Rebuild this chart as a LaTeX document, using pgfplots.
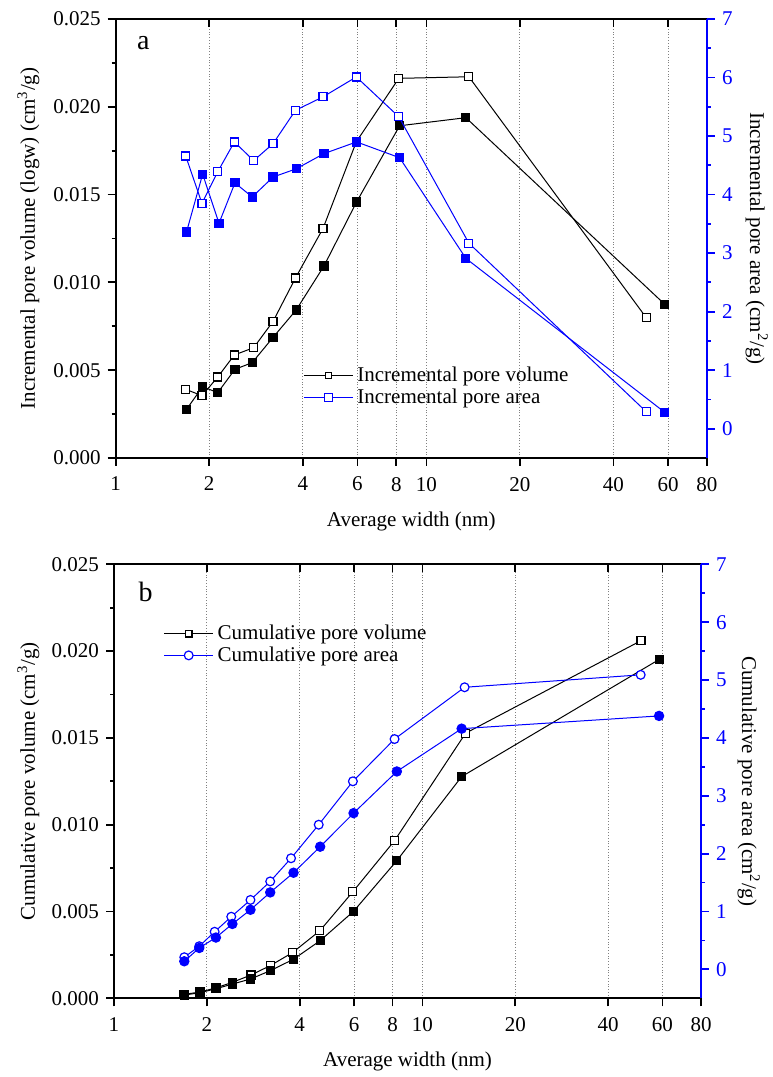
\documentclass[border=0pt]{standalone}
\usepackage{pgfplots}
\pgfplotsset{compat=1.18}
\usepackage{fontspec}
\setmainfont{Liberation Serif}
\definecolor{pblue}{RGB}{0,0,255}

\pgfplotstableread{
x y
1.68 0.00391
1.895 0.00355
2.13 0.00461
2.41 0.00587
2.78 0.00628
3.21 0.00778
3.79 0.01025
4.65 0.01308
5.95 0.01801
8.15 0.02162
13.7 0.02171
51.0 0.00799
}\aVolOpen
\pgfplotstableread{
x y
1.69 0.00277
1.905 0.00406
2.13 0.00372
2.42 0.00505
2.75 0.00543
3.21 0.00687
3.81 0.00843
4.68 0.01093
5.96 0.01458
8.2 0.01892
13.4 0.01938
58.5 0.00875
}\aVolFilled
\pgfplotstableread{
x y
1.68 4.66
1.895 3.85
2.13 4.39
2.41 4.90
2.78 4.58
3.21 4.87
3.79 5.44
4.65 5.67
5.95 6.01
8.15 5.33
13.7 3.17
51.0 0.29
}\aAreaOpen
\pgfplotstableread{
x y
1.69 3.36
1.905 4.35
2.15 3.51
2.42 4.20
2.75 3.96
3.21 4.30
3.81 4.44
4.68 4.70
5.96 4.90
8.2 4.63
13.4 2.91
58.5 0.28
}\aAreaFilled
\pgfplotstableread{
x y
1.68 0.00022
1.9 0.00036
2.14 0.00060
2.42 0.00092
2.78 0.00134
3.21 0.00188
3.79 0.00263
4.65 0.00389
5.95 0.00614
8.12 0.00908
13.8 0.01527
51.1 0.0206
}\bVolOpen
\pgfplotstableread{
x y
1.69 0.00019
1.9 0.00032
2.14 0.00055
2.42 0.00082
2.77 0.00111
3.21 0.00159
3.82 0.00225
4.66 0.00332
5.98 0.00501
8.26 0.00793
13.4 0.01277
58.7 0.01953
}\bVolFilled
\pgfplotstableread{
x y
1.69 0.21
1.89 0.40
2.12 0.65
2.40 0.91
2.77 1.20
3.21 1.52
3.75 1.92
4.61 2.50
5.95 3.25
8.12 3.98
13.7 4.875
51.0 5.09
}\bAreaOpen
\pgfplotstableread{
x y
1.69 0.14
1.89 0.37
2.14 0.55
2.42 0.785
2.77 1.03
3.21 1.33
3.82 1.67
4.66 2.12
5.98 2.70
8.26 3.42
13.4 4.16
58.5 4.38
}\bAreaFilled

\pgfplotsset{
  legend image code/.code={\draw[mark repeat=2,mark phase=2,#1] plot coordinates {(0pt,0pt) (12.25pt,0pt) (24.5pt,0pt)};},
}

\begin{document}
\begin{tikzpicture}
\useasboundingbox (0,0) rectangle (386pt,538.5pt);

% ---------------- Panel a (left axis) ----------------
\begin{axis}[at={(57.85pt,309.5pt)}, anchor=south west, scale only axis,
  width=295.65pt, height=219.5pt, clip=false,
  xmode=log, xmin=1, xmax=80,
  xtick={1,2,4,6,8,10,20,40,60,80},
  xticklabels={1,2,4,6,8,10,20,40,60,80},
  /pgf/number format/assume math mode=true,
  tick label style={font=\fontsize{10.5}{12}\selectfont},
  xticklabel style={yshift=-2pt},
  label style={font=\fontsize{10.5}{12}\selectfont},
  major tick length=4pt, minor tick length=2pt,
  tick style={line width=0.9pt, black},
  axis line style={line width=1pt},
  axis x line*=bottom, axis y line*=left, tick align=outside,
  ymin=0, ymax=0.025, ytick={0,0.005,0.01,0.015,0.02,0.025}, minor y tick num=1,
  scaled y ticks=false,
  yticklabels={0.000,0.005,0.010,0.015,0.020,0.025},
  xmajorgrids, grid style={densely dotted, gray, line width=0.5pt},
  xlabel={Average width (nm)},
  xlabel style={at={(axis description cs:0.5,-0.157)}, anchor=base},
  ylabel={Incremental pore volume (logw) (cm\textsuperscript{3}/g)},
  ylabel style={at={(axis description cs:-0.1365,0.5)}, anchor=base}]
\addplot[black, line width=0.5pt, mark=square*, mark size=2pt, mark options={solid, line width=0.6pt, draw=black, fill=white}] table {\aVolOpen};
\addplot[black, line width=0.5pt, mark=square*, mark size=2pt, mark options={solid, line width=0.6pt, fill=black}] table {\aVolFilled};
\node[font=\fontsize{14}{16}\selectfont] at (axis description cs:0.0467,0.945) {a};
\end{axis}
% top ticks
\begin{axis}[at={(57.85pt,309.5pt)}, anchor=south west, scale only axis,
  width=295.65pt, height=219.5pt,
  xmode=log, xmin=1, xmax=80, ymin=0, ymax=1,
  xtick={1,2,4,6,8,10,20,40,60,80}, xticklabels={},
  major tick length=4pt, tick style={line width=0.9pt, black},
  axis line style={line width=1pt},
  axis x line*=top, axis y line=none, tick align=inside]
\end{axis}
% right axis
\begin{axis}[at={(57.85pt,309.5pt)}, anchor=south west, scale only axis,
  width=295.65pt, height=219.5pt, clip=false,
  xmode=log, xmin=1, xmax=80,
  axis x line=none, axis y line*=right, tick align=outside,
  /pgf/number format/assume math mode=true,
  tick label style={font=\fontsize{10.5}{12}\selectfont},
  label style={font=\fontsize{10.5}{12}\selectfont},
  major tick length=4pt, minor tick length=2pt,
  tick style={line width=0.9pt, pblue},
  ymin=-0.5, ymax=7, ytick={0,1,2,3,4,5,6,7}, minor y tick num=1,
  y axis line style={pblue, line width=1.4pt},
  yticklabel style={pblue},
  ylabel={Incremental pore area (cm\textsuperscript{2}/g)},
  ylabel style={rotate=180, at={(axis description cs:1.073,0.5)}, anchor=base},
  legend cell align=left,
  legend style={draw=none, fill=none, inner sep=0pt, anchor=west,
    font=\fontsize{10.5}{12}\selectfont, row sep=-2pt,
    at={(axis description cs:0.3168,0.163)}}]
\addlegendimage{black, line width=0.5pt, mark=square*, mark size=1.6pt, mark options={solid, line width=0.6pt, draw=black, fill=white}}
\addlegendentry{Incremental pore volume}
\addplot[pblue, line width=0.5pt, mark=square*, mark size=2pt, mark options={solid, line width=0.6pt, draw=pblue, fill=white}] table {\aAreaOpen};
\addlegendentry{Incremental pore area}
\addplot[pblue, line width=0.5pt, mark=square*, mark size=2pt, mark options={solid, line width=0.6pt, fill=pblue}, forget plot] table {\aAreaFilled};
\end{axis}

% ---------------- Panel b (left axis) ----------------
\begin{axis}[at={(57pt,39.35pt)}, anchor=south west, scale only axis,
  width=293.5pt, height=217pt, clip=false,
  xmode=log, xmin=1, xmax=80,
  xtick={1,2,4,6,8,10,20,40,60,80},
  xticklabels={1,2,4,6,8,10,20,40,60,80},
  /pgf/number format/assume math mode=true,
  tick label style={font=\fontsize{10.5}{12}\selectfont},
  xticklabel style={yshift=-2pt},
  label style={font=\fontsize{10.5}{12}\selectfont},
  major tick length=4pt, minor tick length=2pt,
  tick style={line width=0.9pt, black},
  axis line style={line width=1pt},
  axis x line*=bottom, axis y line*=left, tick align=outside,
  ymin=0, ymax=0.025, ytick={0,0.005,0.01,0.015,0.02,0.025}, minor y tick num=1,
  scaled y ticks=false,
  yticklabels={0.000,0.005,0.010,0.015,0.020,0.025},
  xmajorgrids, grid style={densely dotted, gray, line width=0.5pt},
  xlabel={Average width (nm)},
  xlabel style={at={(axis description cs:0.5,-0.156)}, anchor=base},
  ylabel={Cumulative pore volume (cm\textsuperscript{3}/g)},
  ylabel style={at={(axis description cs:-0.1346,0.5)}, anchor=base}]
\addplot[black, line width=0.5pt, mark=square*, mark size=2pt, mark options={solid, line width=0.6pt, draw=black, fill=white}] table {\bVolOpen};
\addplot[black, line width=0.5pt, mark=square*, mark size=2pt, mark options={solid, line width=0.6pt, fill=black}] table {\bVolFilled};
\node[font=\fontsize{14}{16}\selectfont] at (axis description cs:0.054,0.937) {b};
\end{axis}
\begin{axis}[at={(57pt,39.35pt)}, anchor=south west, scale only axis,
  width=293.5pt, height=217pt,
  xmode=log, xmin=1, xmax=80, ymin=0, ymax=1,
  xtick={1,2,4,6,8,10,20,40,60,80}, xticklabels={},
  major tick length=4pt, tick style={line width=0.9pt, black},
  axis line style={line width=1pt},
  axis x line*=top, axis y line=none, tick align=inside]
\end{axis}
\begin{axis}[at={(57pt,39.35pt)}, anchor=south west, scale only axis,
  width=293.5pt, height=217pt, clip=false,
  xmode=log, xmin=1, xmax=80,
  axis x line=none, axis y line*=right, tick align=outside,
  /pgf/number format/assume math mode=true,
  tick label style={font=\fontsize{10.5}{12}\selectfont},
  label style={font=\fontsize{10.5}{12}\selectfont},
  major tick length=4pt, minor tick length=2pt,
  tick style={line width=0.9pt, pblue},
  ymin=-0.5, ymax=7, ytick={0,1,2,3,4,5,6,7}, minor y tick num=1,
  y axis line style={pblue, line width=1.4pt},
  yticklabel style={pblue},
  ylabel={Cumulative pore area (cm\textsuperscript{2}/g)},
  ylabel style={rotate=180, at={(axis description cs:1.070,0.5)}, anchor=base},
  legend cell align=left,
  legend style={draw=none, fill=none, inner sep=0pt, anchor=west,
    font=\fontsize{10.5}{12}\selectfont, row sep=-2pt,
    at={(axis description cs:0.084,0.815)}}]
\addlegendimage{black, line width=0.5pt, mark=square*, mark size=1.6pt, mark options={solid, line width=0.6pt, draw=black, fill=white}}
\addlegendentry{Cumulative pore volume}
\addplot[pblue, line width=0.5pt, mark=*, mark size=2.2pt, mark options={solid, line width=0.6pt, draw=pblue, fill=white}] table {\bAreaOpen};
\addlegendentry{Cumulative pore area}
\addplot[pblue, line width=0.5pt, mark=*, mark size=2.3pt, mark options={solid, line width=0.6pt, fill=pblue}, forget plot] table {\bAreaFilled};
\end{axis}
\end{tikzpicture}
\end{document}
